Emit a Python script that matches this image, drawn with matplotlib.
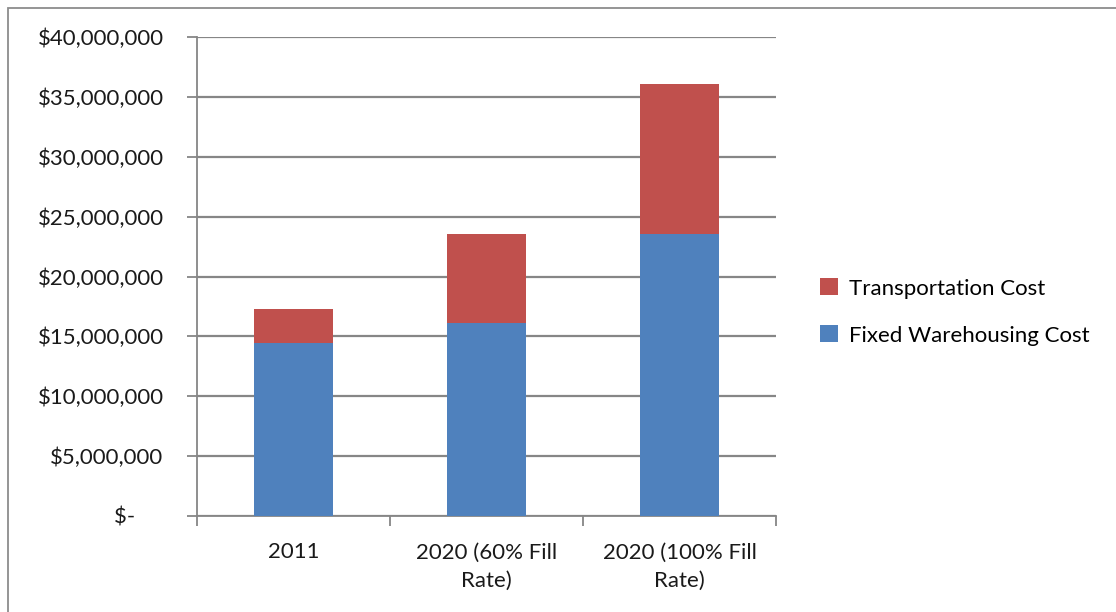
import matplotlib.pyplot as plt
import matplotlib.patches as mpatches
from matplotlib.ticker import FuncFormatter, FixedLocator

plt.rcParams['font.family'] = ['Lato', 'DejaVu Sans']

categories = ['2011', '2020 (60% Fill\nRate)', '2020 (100% Fill\nRate)']
warehousing = [14.42e6, 16.08e6, 23.56e6]
transport = [2.83e6, 7.48e6, 12.52e6]

blue = '#4f81bd'
red = '#c0504d'
grid = '#868686'

fig = plt.figure(figsize=[11.16, 6.12], dpi=100)
ax = fig.add_axes([197/1116, 1-516/612, 579/1116, 479/612])

x = range(len(categories))
ax.bar(x, warehousing, width=0.41, color=blue, label='Fixed Warehousing Cost', zorder=3)
ax.bar(x, transport, width=0.41, bottom=warehousing, color=red,
       label='Transportation Cost', zorder=3)

ax.set_xlim(-0.5, 2.5)
ax.set_ylim(0, 40e6)
ax.set_yticks(range(0, 40000001, 5000000))

def money(v, pos):
    if v == 0:
        return '$-     '
    return '${:,.0f}'.format(v)

ax.yaxis.set_major_formatter(FuncFormatter(money))
ax.yaxis.grid(True, color=grid, linewidth=1.6, zorder=0)
ax.set_axisbelow(True)

ax.set_xticks(list(x))
ax.set_xticklabels(categories, fontsize=16, color='#1a1a1a', linespacing=1.5)
ax.xaxis.set_minor_locator(FixedLocator([-0.5, 0.5, 1.5, 2.5]))
ax.tick_params(axis='x', which='major', length=0, pad=19)
ax.tick_params(axis='x', which='minor', length=7, width=1.3, color=grid, direction='out')
ax.tick_params(axis='y', length=7, width=1.3, color=grid, labelsize=16,
               labelcolor='#1a1a1a', pad=17)

for s in ['top', 'right']:
    ax.spines[s].set_visible(False)
for s in ['left', 'bottom']:
    ax.spines[s].set_color(grid)
    ax.spines[s].set_linewidth(1.3)

h, l = ax.get_legend_handles_labels()
fig.legend(h[::-1], l[::-1], loc='center left', bbox_to_anchor=(800/1116, 1-312/612),
           frameon=False, fontsize=16, handlelength=0.8, handleheight=0.8,
           handletextpad=0.5, labelspacing=1.2)

fig.patches.append(mpatches.Rectangle((8/1116, -0.05), 1.2, 1.05 - 8/612,
                                      transform=fig.transFigure, fill=False,
                                      edgecolor='#8c8c8c', linewidth=1.3))

fig.savefig('out.png', dpi=100)
